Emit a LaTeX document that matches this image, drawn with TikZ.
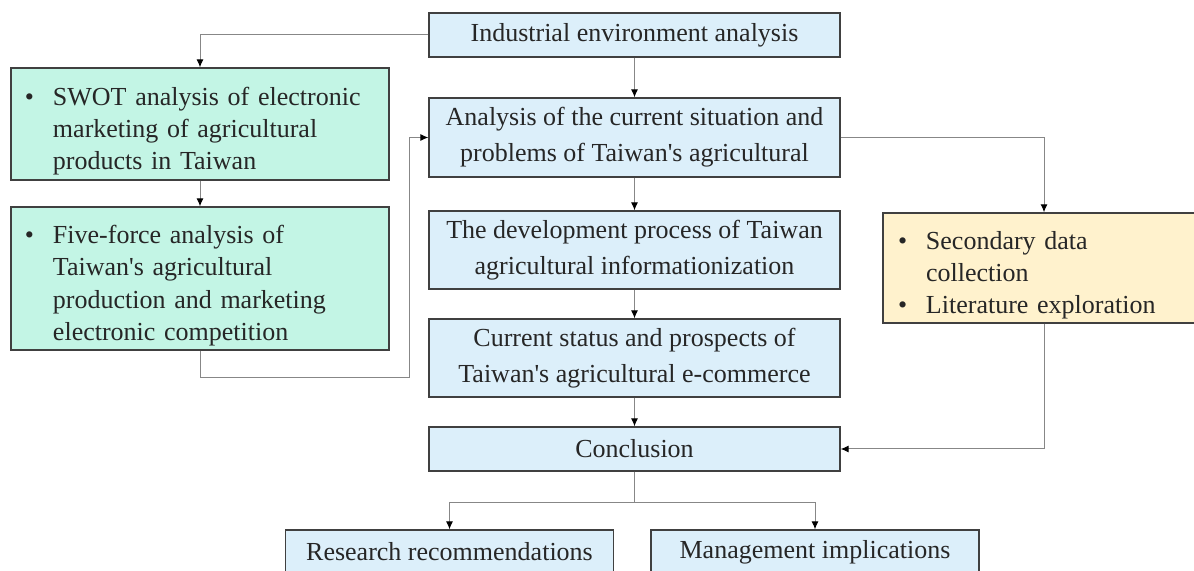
\documentclass[tikz,border=0pt]{standalone}
\usepackage{fontspec}
\setmainfont{Liberation Serif}
\usetikzlibrary{arrows.meta}
\definecolor{boxblue}{RGB}{220,239,250}
\definecolor{boxgreen}{RGB}{195,245,229}
\definecolor{boxyellow}{RGB}{255,242,205}
\definecolor{linegray}{RGB}{135,135,135}
\newcommand{\bulitem}[1]{\par\noindent\hangindent=14pt\hangafter=1\makebox[14pt][l]{\textbullet}#1\par}
\newcommand{\tw}{Taiwan\textquotesingle s}
\begin{document}
\begin{tikzpicture}[x=0.5pt,y=-0.5pt,
    box/.style={draw=black!75,line width=0.7pt,fill=boxblue,text=black!85,font=\fontsize{13}{18}\selectfont,align=center,minimum width=205.5pt,inner sep=0pt},
    listbox/.style={box,font=\fontsize{13}{16.2}\selectfont,align=left,minimum width=0pt,inner xsep=7pt,text width=175pt},
    link/.style={draw=linegray,line width=0.5pt},
    arr/.style={link,-{Latex[length=4pt,width=3.5pt,color=black]}}]
            \useasboundingbox (0,0) rectangle (1194,571);
            \node[box,minimum height=22pt] (env) at (634.5,35) {Industrial environment analysis};
            \node[box,minimum height=39.5pt] (curr) at (634.5,137.5) {Analysis of the current situation and\\problems of \tw{} agricultural};
            \node[box,minimum height=39pt] (devp) at (634.5,250) {The development process of Taiwan\\agricultural informationization};
            \node[box,minimum height=39pt] (ecom) at (634.5,358) {Current status and prospects of\\\tw{} agricultural e-commerce};
            \node[box,minimum height=22pt] (concl) at (634.5,449) {Conclusion};
            \node[box,minimum width=164pt,minimum height=22pt] (resr) at (449.5,552) {Research recommendations};
            \node[box,minimum width=164pt,minimum height=22pt] (mgmt) at (815,552) {Management implications};
            \node[listbox,fill=boxgreen,minimum height=56pt] (swot) at (200,124) {\bulitem{SWOT analysis of electronic\newline marketing of agricultural\newline products in Taiwan}};
            \node[listbox,fill=boxgreen,minimum height=71.5pt] (five) at (200,278.5) {\bulitem{Five-force analysis of\newline \tw{} agricultural\newline production and marketing\newline electronic competition}};
            \node[listbox,fill=boxyellow,inner xsep=7.5pt,text width=146pt,minimum height=55pt] (data) at (1044,268) {\bulitem{Secondary data\newline collection}\bulitem{Literature exploration}};
            \coordinate (loop) at (409.5,378);
            \coordinate (split) at (634.5,502);
            \draw[arr] (env.west) -| (swot.north);
            \draw[arr] (swot) -- (five);
            \draw[arr] (five.south) |- (loop) |- (curr.west);
            \draw[arr] (env) -- (curr);
            \draw[arr] (curr) -- (devp);
            \draw[arr] (devp) -- (ecom);
            \draw[arr] (ecom) -- (concl);
            \draw[arr] (curr.east) -| (data.north);
            \draw[arr] (data.south) |- (concl.east);
            \draw[link] (concl) -- (split);
            \draw[arr] (split) -| (resr.north);
            \draw[arr] (split) -| (mgmt.north);
        \end{tikzpicture}
\end{document}
